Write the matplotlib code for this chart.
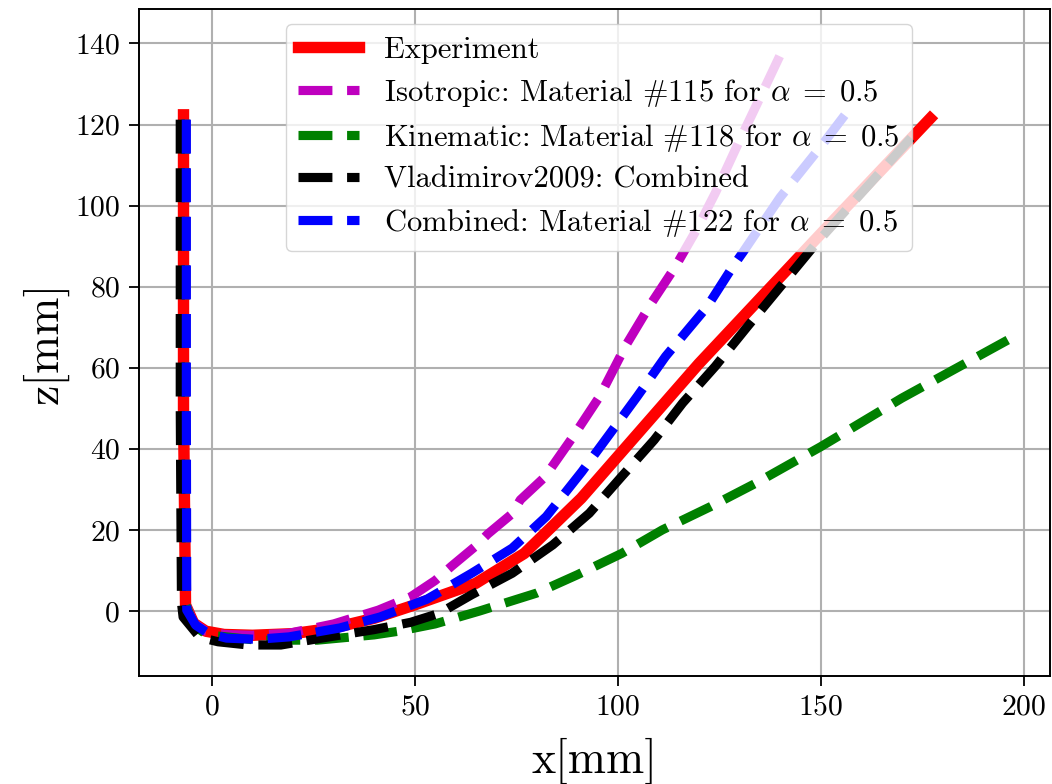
import matplotlib
matplotlib.use("Agg")
import matplotlib.pyplot as plt

plt.rcParams["font.family"] = "serif"
plt.rcParams["font.serif"] = ["cmr10"]
plt.rcParams["mathtext.fontset"] = "cm"
plt.rcParams["axes.formatter.use_mathtext"] = True

# Experiment
exp_x = [-7.0, -7.0, -6.5, -4.5, -1.5, 3, 10, 20, 30, 40, 50, 65, 77, 91, 120, 150, 177]
exp_z = [122.4, 50, 1.5, -3.0, -5.0, -5.8, -6.0, -5.6, -4.2, -1.8, 1.5, 6.8, 14.2, 27.8, 61, 93, 121.5]

# Isotropic: Material #115
iso_x = [-6.5, -6.5, -6.3, -4.5, -1.5, 3, 10, 19, 30, 41, 49, 55, 59, 65, 68, 74, 76, 82, 89,
         95.6, 102, 108, 114, 119.4, 124, 130, 136, 140.3]
iso_z = [121.2, 50, 1.5, -3.0, -5.0, -5.8, -6.0, -5.5, -3.2, 0.2, 3.5, 7.5, 11, 16, 19, 24, 27.4,
         33, 43, 53, 65.5, 75.5, 84.6, 94, 103, 116, 128.6, 137.7]

# Kinematic: Material #118
kin_x = [-6.5, -6.5, -6.4, -4.5, -1.2, 11, 26, 40, 46, 55, 66, 80, 90, 101, 111, 123, 134, 150,
         170, 198.6]
kin_z = [121.2, 50, 1.5, -3.5, -5.9, -7.2, -7.2, -5.9, -5.0, -3.2, 0.0, 4.4, 8.9, 14.2, 20, 25.8,
         31.5, 40.5, 52.5, 68.2]

# Vladimirov2009: Combined
vla_x = [-7.8, -7.8, -7.5, -7.1, -3.0, 1.5, 9, 17, 27, 40, 49, 56, 64, 74, 84, 93, 101, 109, 116,
         124, 132, 149, 173]
vla_z = [121.2, 50, 2.0, -1.5, -6.5, -7.6, -8.4, -8.4, -6.7, -4.6, -2.8, -0.6, 4.0, 9.3, 16.3,
         24.1, 33.2, 42.2, 51.3, 60.3, 70.2, 90.8, 117.5]

# Combined: Material #122
com_x = [-6.3, -6.3, -6.2, -4.0, -1.0, 3.6, 11, 19, 31.5, 41.4, 53, 64, 74, 82.4, 91.2, 98.2,
         104.8, 111.8, 117.3, 122, 128.4, 131, 140, 150, 157]
com_z = [121.2, 50, 0.2, -3.5, -5.5, -6.7, -7.0, -6.4, -4.2, -1.5, 2.9, 9.3, 15.5, 23.3, 34.4,
         43.9, 52.9, 62.8, 69.4, 75, 85, 88.7, 102, 114.5, 123.7]

fig = plt.figure(figsize=(10.52, 7.84), dpi=100)
ax = fig.add_axes([0.132, 0.138, 0.866, 0.8505])

ax.plot(exp_x, exp_z, "r-", lw=8.2, label="Experiment")
ax.plot(iso_x, iso_z, "m--", lw=6.6, label=r"Isotropic: Material #115 for $\alpha\;=\;0.5$")
ax.plot(kin_x, kin_z, "g--", lw=6.6, label=r"Kinematic: Material #118 for $\alpha\;=\;0.5$")
ax.plot(vla_x, vla_z, "k--", lw=6.6, label="Vladimirov2009: Combined")
ax.plot(com_x, com_z, "b--", lw=6.6, label=r"Combined: Material #122 for $\alpha\;=\;0.5$")

ax.set_xlim(-18, 206.5)
ax.set_ylim(-16, 148.5)
ax.set_xticks([0, 50, 100, 150, 200])
ax.set_yticks([0, 20, 40, 60, 80, 100, 120, 140])
ax.grid(True, color="#b0b0b0", lw=1.5)
ax.tick_params(labelsize=21.4, length=7.5, width=1.3, pad=6)
for s in ax.spines.values():
    s.set_linewidth(1.4)

ax.set_xlabel("x[mm]", fontsize=33, labelpad=12)
ax.set_ylabel("z[mm]", fontsize=33)
ax.legend(loc="upper center", bbox_to_anchor=(0.505, 1.0), fontsize=22, labelspacing=0.42)

fig.savefig("out.png", dpi=100)
